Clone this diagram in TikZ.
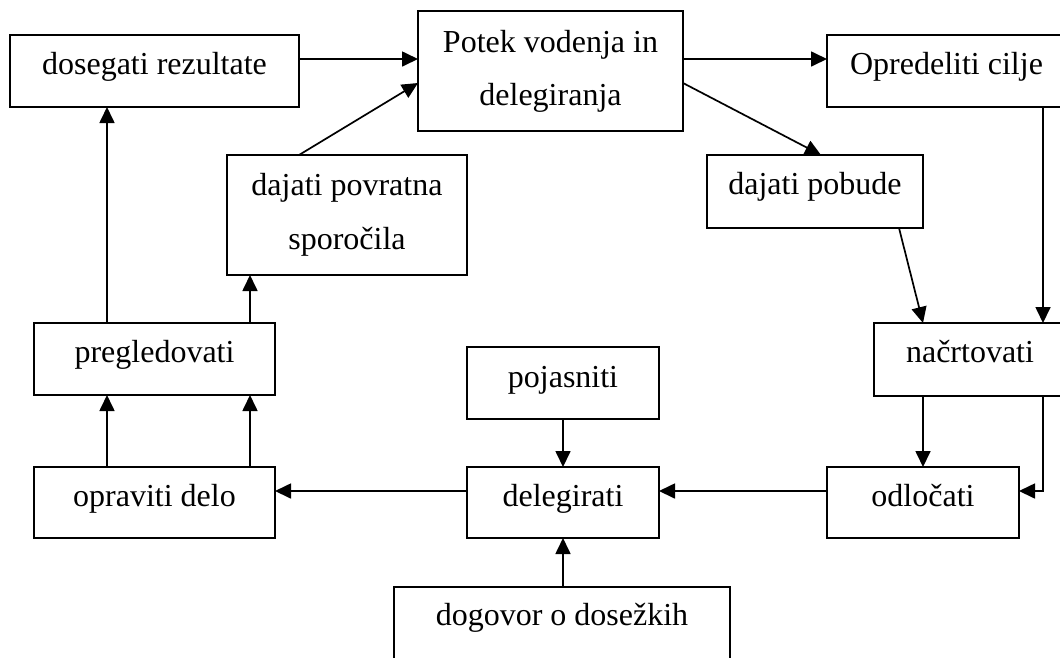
\documentclass[tikz,border=0pt]{standalone}
\usepackage{fontspec}
\setmainfont{Liberation Serif}
\usetikzlibrary{arrows.meta,calc}
\tikzset{
  box/.style={draw, line width=1.7pt, inner sep=0pt, outer sep=0pt},
  lbl/.style={inner sep=0pt, outer sep=0pt, anchor=base, font=\fontsize{32}{38}\selectfont},
  arr/.style={line width=1.7pt, -{Triangle[length=16pt,width=15pt]}},
}
\begin{document}
\begin{tikzpicture}[x=1pt,y=-1pt]
\useasboundingbox (0,0) rectangle (1060,657);
\clip (0,0) rectangle (1060,657);
% boxes
\node[box, minimum width=289pt, minimum height=72pt] (dos) at (154.5,71) {};
\node[box, minimum width=265pt, minimum height=120pt] (pot) at (550.5,71) {};
\node[box, minimum width=239pt, minimum height=72pt] (opr) at (946.5,71) {};
\node[box, minimum width=240pt, minimum height=120pt] (dpv) at (347,215) {};
\node[box, minimum width=216pt, minimum height=73pt] (dpb) at (815,191.5) {};
\node[box, minimum width=241pt, minimum height=72pt] (pre) at (154.5,359) {};
\node[box, minimum width=192pt, minimum height=73pt] (nac) at (970,359.5) {};
\node[box, minimum width=192pt, minimum height=72pt] (poj) at (563,383) {};
\node[box, minimum width=241pt, minimum height=71pt] (opd) at (154.5,502.5) {};
\node[box, minimum width=192pt, minimum height=71pt] (del) at (563,502.5) {};
\node[box, minimum width=192pt, minimum height=71pt] (odl) at (923,502.5) {};
\node[box, minimum width=336pt, minimum height=72pt] (dog) at (562,623) {};
% texts
\node[lbl] (tdos) at ([yshift=-39pt]dos.north) {dosegati rezultate};
\node[lbl] (tpot1) at ([yshift=-41pt]pot.north) {Potek vodenja in};
\node[lbl] (tpot2) at ([yshift=-94pt]pot.north) {delegiranja};
\node[lbl] (topr) at ([yshift=-39pt]opr.north) {Opredeliti cilje};
\node[lbl] (tdpv1) at ([yshift=-40pt]dpv.north) {dajati povratna};
\node[lbl] (tdpv2) at ([yshift=-94pt]dpv.north) {sporočila};
\node[lbl] (tdpb) at ([yshift=-39pt]dpb.north) {dajati pobude};
\node[lbl] (tpre) at ([yshift=-39pt]pre.north) {pregledovati};
\node[lbl] (tnac) at ([yshift=-39pt]nac.north) {načrtovati};
\node[lbl] (tpoj) at ([yshift=-40pt]poj.north) {pojasniti};
\node[lbl] (topd) at ([yshift=-39pt]opd.north) {opraviti delo};
\node[lbl] (tdel) at ([yshift=-39pt]del.north) {delegirati};
\node[lbl] (todl) at ([yshift=-39pt]odl.north) {odločati};
\node[lbl] (tdog) at ([yshift=-38pt]dog.north) {dogovor o dosežkih};
% helper coordinates
\coordinate (c1) at ([yshift=12pt]dos.east);
\coordinate (c3) at ([yshift=12pt]pot.east);
\coordinate (c5) at ([xshift=96.5pt]opr.south);
\coordinate (c8) at ([xshift=73pt]nac.south);
\coordinate (c8b) at ([yshift=11.5pt]odl.east);
\coordinate (c9) at ([yshift=11.5pt]odl.west);
\coordinate (c12) at ([yshift=11.5pt]del.west);
\coordinate (c13) at ([xshift=-47.5pt]opd.north);
\coordinate (c14) at ([xshift=95.5pt]opd.north);
\coordinate (c15) at ([xshift=-47.5pt]pre.north);
\coordinate (c16) at ([xshift=95.5pt]pre.north);
% connectors
\draw[arr] (c1) -- (c1 -| pot.west);
\draw[arr] ([xshift=-48pt]dpv.north) -- ([yshift=-12pt]pot.west);
\draw[arr] (c3) -- (c3 -| opr.west);
\draw[arr] ([yshift=-12pt]pot.east) -- ([xshift=6pt]dpb.north);
\draw[arr] (c5) -- (c5 |- nac.north);
\draw[arr] ([xshift=84pt]dpb.south) -- ([xshift=-47pt]nac.north);
\draw[arr] ([xshift=-47pt]nac.south) -- (odl.north);
\draw[arr] (c8) |- (c8b);
\draw[arr] (c9) -- (c9 -| del.east);
\draw[arr] (poj.south) -- (del.north);
\draw[arr] (del.south |- dog.north) -- (del.south);
\draw[arr] (c12) -- (c12 -| opd.east);
\draw[arr] (c13) -- (c13 |- pre.south);
\draw[arr] (c14) -- (c14 |- pre.south);
\draw[arr] (c15) -- (c15 |- dos.south);
\draw[arr] (c16) -- (c16 |- dpv.south);
\end{tikzpicture}
\end{document}
